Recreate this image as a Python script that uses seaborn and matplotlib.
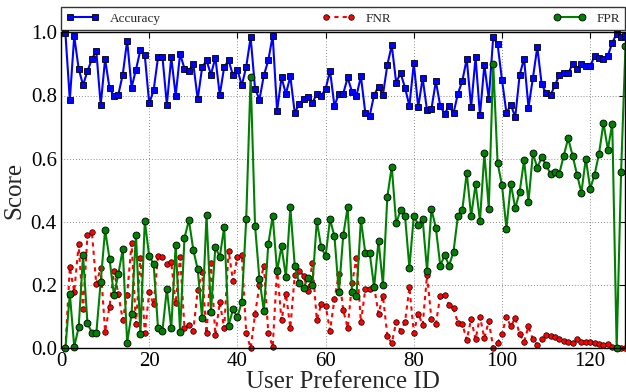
import numpy as np
import pandas as pd
import matplotlib
matplotlib.use("Agg")
import matplotlib.pyplot as plt
import seaborn as sns

user_ids = list(range(1, 129))

accuracy = [0.997, 0.786, 0.988, 0.885, 0.833, 0.877, 0.915, 0.941, 0.770, 0.915,
            0.823, 0.799, 0.803, 0.866, 0.974, 0.825, 0.882, 0.944, 0.927, 0.775,
            0.816, 0.921, 0.923, 0.771, 0.921, 0.799, 0.932, 0.885, 0.878, 0.900,
            0.788, 0.889, 0.911, 0.866, 0.920, 0.802, 0.890, 0.911, 0.864, 0.882,
            0.832, 0.891, 0.984, 0.822, 0.787, 0.864, 0.911, 0.989, 0.751, 0.857,
            0.805, 0.861, 0.745, 0.773, 0.788, 0.795, 0.776, 0.806, 0.800, 0.820,
            0.879, 0.767, 0.805, 0.806, 0.857, 0.811, 0.799, 0.861, 0.745, 0.736,
            0.802, 0.828, 0.802, 0.897, 0.959, 0.841, 0.871, 0.825, 0.767, 0.902,
            0.763, 0.855, 0.753, 0.758, 0.845, 0.767, 0.742, 0.768, 0.744, 0.806,
            0.846, 0.916, 0.763, 0.921, 0.738, 0.897, 0.789, 0.984, 0.962, 0.849,
            0.745, 0.770, 0.732, 0.865, 0.917, 0.762, 0.855, 0.953, 0.835, 0.807,
            0.801, 0.832, 0.865, 0.870, 0.870, 0.899, 0.884, 0.901, 0.892, 0.892,
            0.926, 0.918, 0.916, 0.926, 0.967, 0.996, 0.984, 0.989]

fnr = [0.000, 0.256, 0.179, 0.329, 0.123, 0.358, 0.367, 0.203, 0.255, 0.053,
       0.132, 0.246, 0.172, 0.090, 0.170, 0.332, 0.076, 0.287, 0.047, 0.177,
       0.139, 0.293, 0.289, 0.268, 0.272, 0.142, 0.290, 0.065, 0.073, 0.056,
       0.184, 0.241, 0.047, 0.270, 0.041, 0.146, 0.063, 0.309, 0.213, 0.290,
       0.294, 0.049, 0.000, 0.107, 0.200, 0.262, 0.049, 0.005, 0.252, 0.088,
       0.172, 0.065, 0.231, 0.246, 0.230, 0.180, 0.269, 0.090, 0.139, 0.135,
       0.056, 0.155, 0.235, 0.121, 0.065, 0.206, 0.286, 0.082, 0.187, 0.189,
       0.195, 0.109, 0.166, 0.039, 0.016, 0.084, 0.056, 0.082, 0.193, 0.049,
       0.110, 0.074, 0.231, 0.093, 0.077, 0.167, 0.169, 0.137, 0.126, 0.081,
       0.078, 0.026, 0.093, 0.028, 0.100, 0.032, 0.086, 0.002, 0.018, 0.045,
       0.100, 0.069, 0.097, 0.044, 0.021, 0.069, 0.028, 0.011, 0.028, 0.042,
       0.039, 0.037, 0.028, 0.023, 0.021, 0.018, 0.028, 0.019, 0.021, 0.021,
       0.016, 0.014, 0.011, 0.015, 0.005, 0.000, 0.000, 0.000]

fpr = [0.000, 0.173, 0.005, 0.066, 0.294, 0.079, 0.050, 0.047, 0.209, 0.374,
       0.284, 0.168, 0.235, 0.313, 0.018, 0.109, 0.360, 0.044, 0.403, 0.291,
       0.268, 0.063, 0.055, 0.188, 0.063, 0.327, 0.053, 0.349, 0.406, 0.311,
       0.250, 0.095, 0.421, 0.116, 0.321, 0.289, 0.383, 0.072, 0.123, 0.099,
       0.147, 0.409, 0.860, 0.388, 0.218, 0.119, 0.329, 0.419, 0.244, 0.323,
       0.225, 0.446, 0.262, 0.206, 0.190, 0.224, 0.200, 0.403, 0.320, 0.292,
       0.408, 0.355, 0.177, 0.358, 0.446, 0.177, 0.167, 0.407, 0.302, 0.302,
       0.193, 0.341, 0.200, 0.480, 0.575, 0.395, 0.437, 0.419, 0.255, 0.419,
       0.391, 0.409, 0.246, 0.440, 0.381, 0.262, 0.294, 0.262, 0.306, 0.419,
       0.438, 0.556, 0.418, 0.519, 0.403, 0.617, 0.442, 0.901, 0.586, 0.516,
       0.379, 0.521, 0.443, 0.495, 0.595, 0.464, 0.617, 0.572, 0.604, 0.581,
       0.551, 0.557, 0.553, 0.610, 0.664, 0.610, 0.550, 0.493, 0.600, 0.505,
       0.550, 0.616, 0.713, 0.629, 0.711, 0.000, 0.557, 0.958]

series_labels = ["Accuracy", "FNR", "FPR"]
x_ticks = [0, 20, 40, 60, 80, 100, 120]
y_ticks = [0.0, 0.2, 0.4, 0.6, 0.8, 1.0]

sns.set_style("white")
plt.rcParams["font.family"] = ["Liberation Serif", "DejaVu Serif"]

fig = plt.figure(figsize=(6.26, 3.92), dpi=100)
ax = fig.add_axes([61 / 626, 1 - 348.3 / 392, 1 - 61 / 626 - 0.0008, 316 / 392])

df = pd.DataFrame({"id": user_ids, "Accuracy": accuracy, "FNR": fnr, "FPR": fpr})

sns.lineplot(data=df, x="id", y="Accuracy", ax=ax, color="#0000ff", linewidth=1.5,
             marker="s", markersize=5, markerfacecolor="#0000ff",
             markeredgecolor="black", markeredgewidth=0.6, label=series_labels[0],
             errorbar=None, clip_on=False)
sns.lineplot(data=df, x="id", y="FNR", ax=ax, color="#ff0000", linewidth=1.5,
             linestyle=(0, (2, 2)), marker="o", markersize=4, markerfacecolor="#ff0000",
             markeredgecolor="black", markeredgewidth=0.5, label=series_labels[1],
             errorbar=None, clip_on=False)
sns.lineplot(data=df, x="id", y="FPR", ax=ax, color="#008000", linewidth=1.5,
             marker="o", markersize=5, markerfacecolor="#008000",
             markeredgecolor="black", markeredgewidth=0.6, label=series_labels[2],
             errorbar=None, clip_on=False)

ax.set_xlim(0, 128)
ax.set_ylim(0, 1.0)
ax.set_xticks(x_ticks)
ax.set_yticks(y_ticks)
ax.set_xticklabels([str(t) for t in x_ticks], fontsize=15)
ax.set_yticklabels([f"{t:.1f}" for t in y_ticks], fontsize=15)
ax.tick_params(direction="in", length=4, width=0.8, top=True, right=True, pad=3,
               colors="black")
ax.grid(True, linestyle=(0, (1, 2.5)), color="#666666", linewidth=0.6)
for s in ax.spines.values():
    s.set_color("black")
    s.set_linewidth(1.0)
ax.set_xlabel("User Preference ID", fontsize=18, labelpad=0)
ax.set_ylabel("Score", fontsize=18, labelpad=4)

leg = ax.legend(loc="lower left", bbox_to_anchor=(0, 1.007, 1, 0.07), mode="expand",
                ncol=3, borderaxespad=0, fontsize=9.5, numpoints=2, frameon=True,
                fancybox=False, handlelength=2.5)
leg.get_frame().set_edgecolor("black")
leg.get_frame().set_linewidth(1.0)

fig.savefig("out.png", dpi=100)
